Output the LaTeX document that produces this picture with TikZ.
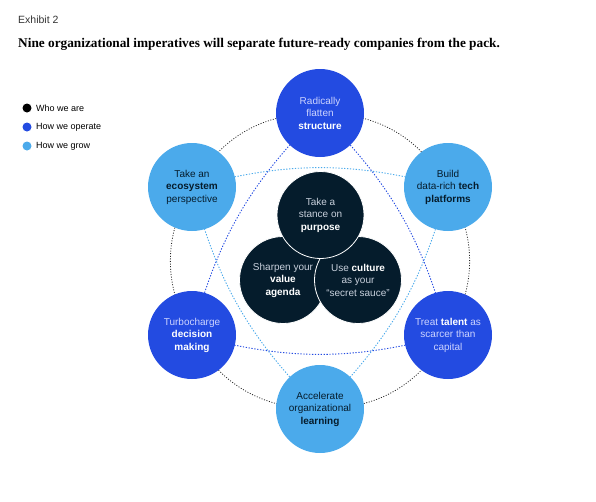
\documentclass[tikz,border=0pt]{standalone}
\usepackage{fontspec}
\setmainfont{Liberation Sans}
\newfontfamily\titlefont{Liberation Serif}
\usetikzlibrary{backgrounds}
\definecolor{navy}{RGB}{5,28,44}
\definecolor{eBlue}{RGB}{35,75,225}
\definecolor{cBlue}{RGB}{75,170,235}
\definecolor{navyTxt}{RGB}{200,208,220}
\definecolor{blueTxt}{RGB}{205,212,255}
\newcommand{\kw}[1]{\textbf{\color{white}#1}}

\begin{document}
\begin{tikzpicture}[x=1pt,y=-1pt,font=\fontsize{10}{12.5}\selectfont,
  op/.style={circle,fill=eBlue,text=blueTxt,minimum size=88pt,inner sep=0pt,align=center},
  gr/.style={circle,fill=cBlue,text=navy,minimum size=88pt,inner sep=0pt,align=center},
  wa/.style={circle,fill=navy,draw=white,line width=0.8pt,text=navyTxt,minimum size=87pt,inner sep=0pt,align=center},
  dot/.style={circle,minimum size=9pt,inner sep=0pt},
  lg/.style={anchor=west,font=\fontsize{9}{11}\selectfont,inner sep=0pt},
  ring/.style={draw=black!85,line width=0.8pt,dash pattern=on 1pt off 1.6pt},
  tri/.style={line width=0.9pt,dash pattern=on 1.3pt off 1.6pt}]
  \useasboundingbox (0,0) rectangle (596,501);
  % heading
  \node[anchor=base west,inner sep=0pt,font=\fontsize{10.5}{12}\selectfont,text=black!80] (ex) at (18,23) {Exhibit 2};
  \node[anchor=base west,inner sep=0pt,font=\titlefont\bfseries\fontsize{13.3}{16}\selectfont] (ttl) at (18,47)
    {Nine organizational imperatives will separate future-ready companies from the pack.};
  % legend
  \node[dot,fill=black] (d1) at (27,108) {};
  \node[dot,fill=eBlue] (d2) at (27,127) {};
  \node[dot,fill=cBlue] (d3) at (27,146) {};
  \node[lg] (l1) at (36,108) {Who we are};
  \node[lg] (l2) at (36,127) {How we operate};
  \node[lg] (l3) at (36,146) {How we grow};
  % outer ring
  \node[op] (st) at (320,113) {Radically\\flatten\\\kw{structure}};
  \node[gr] (tp) at (448,187) {Build\\data-rich \textbf{tech}\\\textbf{platforms}};
  \node[op] (tl) at (448,335) {Treat \kw{talent} as\\scarcer than\\capital};
  \node[gr] (ol) at (320,409) {Accelerate\\organizational\\\textbf{learning}};
  \node[op] (dm) at (192,335) {Turbocharge\\\kw{decision}\\\kw{making}};
  \node[gr] (es) at (192,187) {Take an\\\textbf{ecosystem}\\perspective};
  % core
  \node[wa] (va) at (283,280) {Sharpen your\\\kw{value}\\\kw{agenda}};
  \node[wa] (cu) at (358,280) {Use \kw{culture}\\as your\\``secret sauce''};
  \node[wa] (pu) at (320.5,215) {Take a\\stance on\\\kw{purpose}};
  \begin{scope}[on background layer]
    \foreach \u/\w in {st/es,es/dm,dm/ol,ol/tl,tl/tp,tp/st}
      \draw[ring] (\u.center) to[bend right=30] (\w.center);
    \foreach \u/\w in {es/ol,ol/tp,tp/es}
      \draw[tri,cBlue] (\u.center) to[bend right=15] (\w.center);
    \foreach \u/\w in {st/dm,dm/tl,tl/st}
      \draw[tri,eBlue] (\u.center) to[bend right=15] (\w.center);
  \end{scope}
\end{tikzpicture}
\end{document}
